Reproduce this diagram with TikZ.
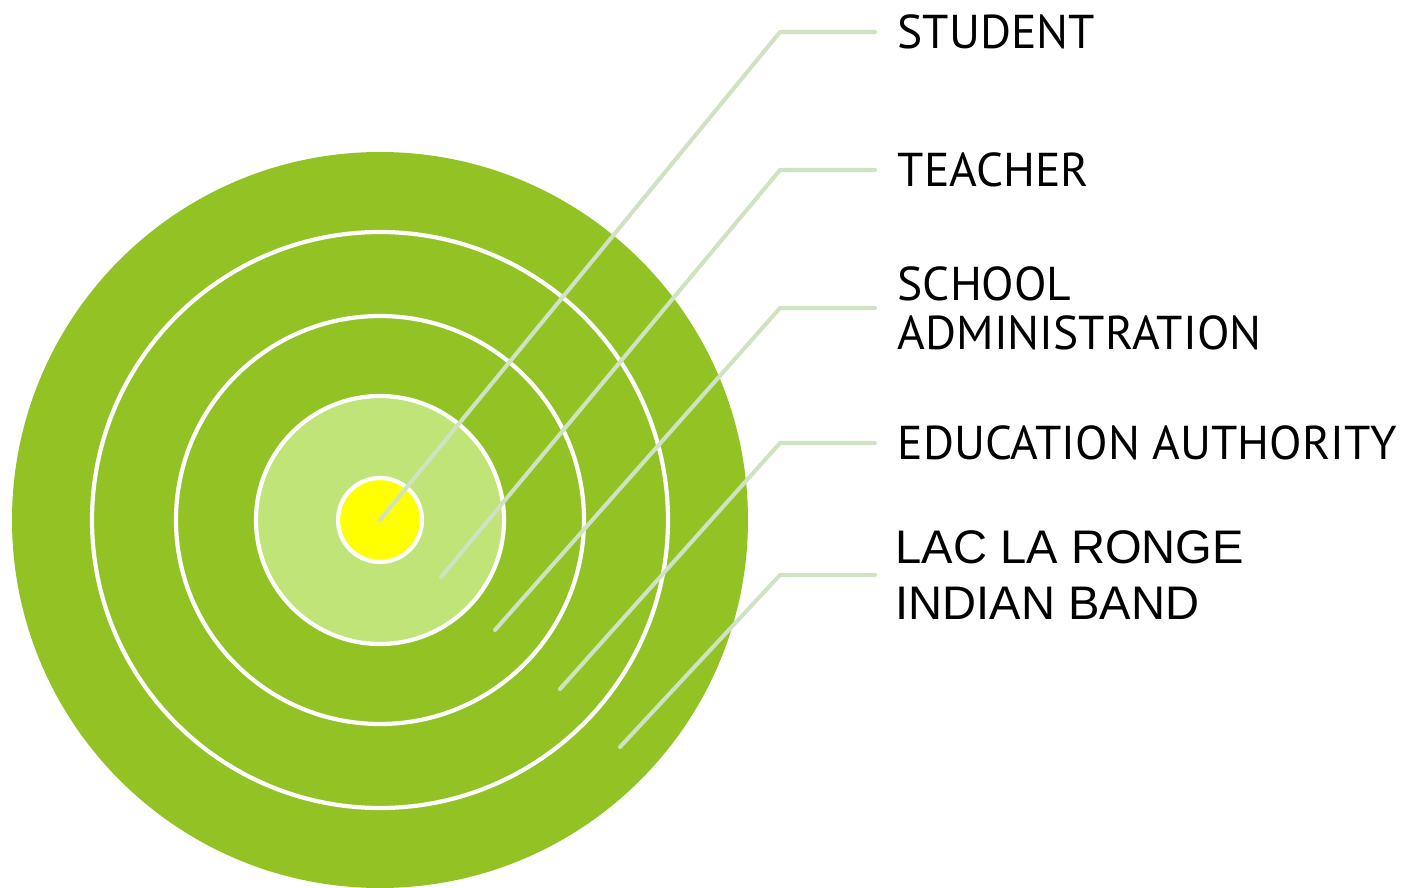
\documentclass[tikz,border=0pt]{standalone}
\usepackage{fontspec}
\newfontfamily\headfont{PT Sans}
\newfontfamily\bandfont{Liberation Sans}
\usetikzlibrary{positioning}
\definecolor{ringgreen}{RGB}{147,194,37}
\definecolor{palegreen}{RGB}{192,228,120}
\definecolor{leadgreen}{RGB}{207,227,194}
\definecolor{coreyellow}{RGB}{255,255,0}
\begin{document}
\begin{tikzpicture}[x=0.01cm,y=0.01cm,
  ring/.style={draw=white,line width=1.2pt},
  leader/.style={draw=leadgreen,line width=1.15pt,line cap=round,line join=round},
  lbl/.style={inner sep=0pt,align=left,font=\headfont\fontsize{13.5}{13.9}\selectfont},
  bandlbl/.style={inner sep=0pt,align=left,font=\bandfont\fontsize{13.4}{15.9}\selectfont}]
\useasboundingbox (0,0) rectangle (1402,887);
\coordinate (c) at (380,367);
\fill[ringgreen] (c) circle (368);
\draw[ring] (c) circle (288);
\draw[ring] (c) circle (204);
\draw[ring,fill=palegreen] (c) circle (124);
\draw[ring,fill=coreyellow] (c) circle (42);
% leader ends
\coordinate (s1) at (380,367);
\coordinate (s2) at (441,310);
\coordinate (s3) at (495,257);
\coordinate (s4) at (560,198);
\coordinate (s5) at (620,140);
\coordinate (k1) at (780,855);
\coordinate (k2) at (780,717);
\coordinate (k3) at (780,579);
\coordinate (k4) at (780,444);
\coordinate (k5) at (780,312);
\coordinate (e1) at (875,855);
\coordinate (e2) at (875,717);
\coordinate (e3) at (875,579);
\coordinate (e4) at (875,444);
\coordinate (e5) at (875,312);
\node[lbl,right=0.22cm of e1] (student) {STUDENT};
\node[lbl,right=0.22cm of e2] (teacher) {TEACHER};
\node[lbl,right=0.22cm of e3] (school) {SCHOOL\\ADMINISTRATION};
\node[lbl,right=0.22cm of e4] (authority) {EDUCATION AUTHORITY};
\node[bandlbl,right=0.2cm of e5] (band) {LAC LA RONGE\\INDIAN BAND};
\draw[leader] (s1) -- (k1) -- (e1);
\draw[leader] (s2) -- (k2) -- (e2);
\draw[leader] (s3) -- (k3) -- (e3);
\draw[leader] (s4) -- (k4) -- (e4);
\draw[leader] (s5) -- (k5) -- (e5);
\end{tikzpicture}
\end{document}
